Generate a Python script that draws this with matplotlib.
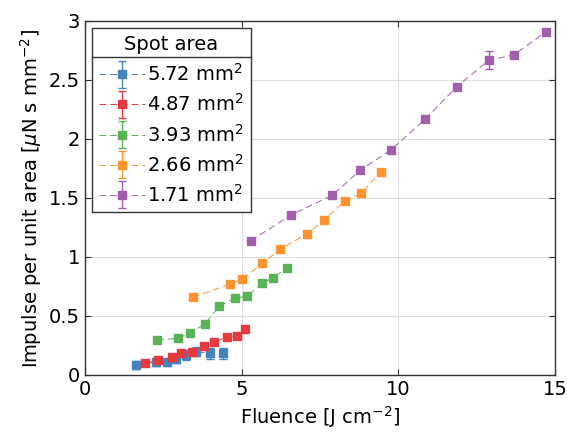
import matplotlib
matplotlib.use("Agg")
import matplotlib.pyplot as plt
from matplotlib.lines import Line2D
from matplotlib.legend_handler import HandlerErrorbar
from matplotlib.container import ErrorbarContainer

# spot areas (mm^2) and their colours
areas = ["5.72", "4.87", "3.93", "2.66", "1.71"]
colors = ["#4683bb", "#e43a40", "#5bb158", "#ff9330", "#a05fac"]

# fluence [J cm^-2], impulse per unit area [uN s mm^-2], error
x_572 = [1.61, 2.27, 2.61, 2.91, 3.22, 3.55, 3.98, 4.39]
y_572 = [0.085, 0.110, 0.107, 0.133, 0.170, 0.197, 0.183, 0.183]
e_572 = [0.030, 0.030, 0.030, 0.035, 0.040, 0.040, 0.045, 0.045]

x_487 = [1.92, 2.34, 2.77, 3.06, 3.40, 3.78, 4.13, 4.52, 4.84, 5.12]
y_487 = [0.099, 0.127, 0.150, 0.184, 0.192, 0.242, 0.277, 0.324, 0.331, 0.387]
e_487 = [0.015, 0.015, 0.015, 0.015, 0.015, 0.015, 0.015, 0.015, 0.015, 0.015]

x_393 = [2.30, 2.97, 3.35, 3.83, 4.28, 4.79, 5.17, 5.65, 6.00, 6.44]
y_393 = [0.297, 0.311, 0.358, 0.432, 0.585, 0.650, 0.669, 0.777, 0.825, 0.907]
e_393 = [0.012, 0.012, 0.012, 0.012, 0.012, 0.012, 0.012, 0.012, 0.012, 0.012]

x_266 = [3.44, 4.63, 5.02, 5.66, 6.22, 7.09, 7.63, 8.30, 8.82, 9.45]
y_266 = [0.659, 0.769, 0.814, 0.946, 1.065, 1.197, 1.314, 1.477, 1.542, 1.723]
e_266 = [0.015, 0.015, 0.015, 0.015, 0.015, 0.015, 0.015, 0.015, 0.015, 0.015]

x_171 = [5.29, 6.57, 7.89, 8.78, 9.76, 10.85, 11.86, 12.89, 13.68, 14.71]
y_171 = [1.138, 1.356, 1.523, 1.735, 1.907, 2.167, 2.443, 2.669, 2.712, 2.909]
e_171 = [0.015, 0.015, 0.015, 0.025, 0.015, 0.015, 0.015, 0.075, 0.02, 0.025]

series = [(x_572, y_572, e_572), (x_487, y_487, e_487), (x_393, y_393, e_393),
          (x_266, y_266, e_266), (x_171, y_171, e_171)]

plt.rcParams['font.family'] = ['DejaVu Sans']
plt.rcParams['mathtext.fontset'] = 'dejavusans'

fig = plt.figure(figsize=(5.67, 4.43), dpi=100)
ax = fig.add_axes([0.15, 0.1535, 0.829, 0.7991])

for (xs, ys, es), a, c in zip(series, areas, colors):
    ax.errorbar(xs, ys, yerr=es, color=c, marker='s', markersize=5.5,
                linestyle=(0, (7, 4)), linewidth=0.7, elinewidth=1.0,
                capsize=3, capthick=1.0, label=a + r" mm$^2$")

ax.set_xlim(0, 15)
ax.set_ylim(0, 3)
ax.set_xticks([0, 5, 10, 15])
ax.set_yticks([0, 0.5, 1, 1.5, 2, 2.5, 3])
ax.set_yticklabels(["0", "0.5", "1", "1.5", "2", "2.5", "3"])
ax.grid(True, color='#dddddd', linewidth=0.8)
ax.set_axisbelow(True)
ax.tick_params(direction='in', top=True, right=True, labelsize=14,
               length=4, color='#333333')
for sp in ax.spines.values():
    sp.set_color('#333333')
    sp.set_linewidth(1.0)

ax.set_xlabel(r"Fluence [J cm$^{-2}$]", fontsize=14)
ax.set_ylabel(r"Impulse per unit area [$\mu$N s mm$^{-2}$]", fontsize=14)

leg = ax.legend(title="Spot area", loc='upper left', fontsize=14,
                title_fontsize=14, fancybox=False, edgecolor='#333333',
                framealpha=1, handlelength=2.4, handletextpad=0.1,
                borderaxespad=0.35, labelspacing=0.42, borderpad=0.35,
                handler_map={ErrorbarContainer: HandlerErrorbar(yerr_size=0.7)})
leg.get_frame().set_linewidth(1.0)
leg._legend_box.sep = 7

# separator line under legend title
fig.canvas.draw()
r = fig.canvas.get_renderer()
fb = leg.get_frame().get_window_extent(r)
tb = leg.get_title().get_window_extent(r)
yl = (tb.y0 - 3) / fig.bbox.height
fig.add_artist(Line2D([fb.x0 / fig.bbox.width, fb.x1 / fig.bbox.width], [yl, yl],
                      color='#333333', linewidth=1.0))

fig.savefig("out.png", dpi=100)
